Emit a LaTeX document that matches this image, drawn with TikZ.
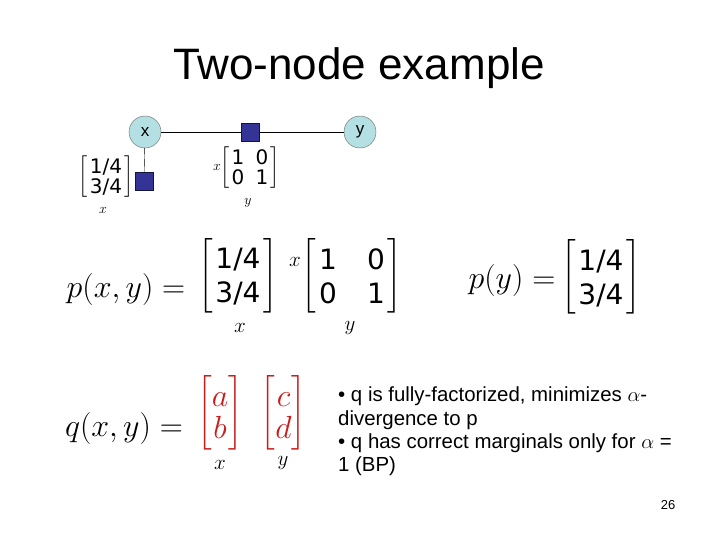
\RequirePackage{fix-cm}
\documentclass[tikz,border=0pt]{standalone}
\usepackage{amsmath}
\usepackage{fontspec}
\usepackage{xcolor}
\usetikzlibrary{positioning}
\newfontfamily\arial{Liberation Sans}
\newfontfamily\dejavu{DejaVu Sans}
\definecolor{varFill}{RGB}{180,224,228}
\definecolor{facFill}{RGB}{52,52,150}
\definecolor{facLine}{RGB}{20,20,60}
\definecolor{entRed}{RGB}{200,30,30}
\newcommand{\ent}[2][28]{\text{\dejavu\fontsize{#1}{#1}\selectfont\kern.1em #2\kern.1em}}
\newcommand{\rowB}{\rule[-7pt]{0pt}{34pt}}
\newcommand{\rowS}{\rule[-3pt]{0pt}{20pt}}
\delimitershortfall=8pt
\delimiterfactor=850

\begin{document}
\begin{tikzpicture}[x=1pt, y=-1pt,
  var/.style={circle, draw=gray!80!black, fill=varFill, minimum size=32pt, inner sep=0pt, font=\arial\fontsize{17}{20}\selectfont},
  fac/.style={rectangle, draw=facLine, fill=facFill, minimum size=18pt, inner sep=0pt},
  small/.style={font=\fontsize{18}{20}\selectfont\renewcommand\arraystretch{0}, inner sep=0pt},
  smalllbl/.style={font=\fontsize{14}{16}\selectfont, inner sep=0pt},
  big/.style={font=\fontsize{32}{34}\selectfont\renewcommand\arraystretch{0}, inner sep=0pt},
  biglbl/.style={font=\fontsize{21}{24}\selectfont, inner sep=0pt}]
  \useasboundingbox (0,0) rectangle (720,540);
  \node[font=\arial\fontsize{44}{50}\selectfont] (title) at (359,68) {Two-node example};
  % graph
  \node[var] (x) at (145,132) {x};
  \node[var] (y) at (360,132) {y};
  \node[fac] (fxy) at (250,132) {};
  \node[fac] (fx) at (144,181) {};
  \draw (x) -- (fxy) -- (y);
  \draw (x) -- (fx);
  \node[small] (mx) at (106,176.5) {$\begin{bmatrix}\rowS\ent[20]{1/4}\\ \rowS\ent[20]{3/4}\end{bmatrix}$};
  \node[smalllbl] (lx) at (103,210) {$x$};
  \node[small] (mxy) at (250,167.5) {\setlength\arraycolsep{3.6pt}$\begin{bmatrix}\rowS\ent[20]{1}&\ent[20]{0}\\ \rowS\ent[20]{0}&\ent[20]{1}\end{bmatrix}$};
  \node[smalllbl] (rxy) at (217,167) {$x$};
  \node[smalllbl] (cxy) at (248,203) {$y$};
  % p
  \node[big] (peq) at (126,290) {$p(x,y) =$};
  \node[big] (pm1) at (238,275.5) {$\begin{bmatrix}\rowB\ent{1/4}\\ \rowB\ent{3/4}\end{bmatrix}$};
  \node[biglbl] (pl1) at (240,328) {$x$};
  \node[big] (pm2) at (352,276) {\setlength\arraycolsep{12.3pt}$\begin{bmatrix}\rowB\ent{1}&\ent{0}\\ \rowB\ent{0}&\ent{1}\end{bmatrix}$};
  \node[biglbl] (pr2) at (295,262) {$x$};
  \node[biglbl] (pc2) at (350,328) {$y$};
  \node[big] (pyeq) at (512,280) {$p(y) =$};
  \node[big] (pm3) at (601,277) {$\begin{bmatrix}\rowB\ent{1/4}\\ \rowB\ent{3/4}\end{bmatrix}$};
  % q
  \node[big] (qeq) at (124,428) {$q(x,y) =$};
  \node[big] (qm1) at (220,412.5)
    {\color{entRed}$\begin{bmatrix}\rule[-10pt]{0pt}{39pt}a\\ \rule[-9pt]{0pt}{29pt}b\end{bmatrix}$};
  \node[biglbl] (ql1) at (220,465) {$x$};
  \node[big] (qm2) at (283.5,412.5)
    {\color{entRed}$\begin{bmatrix}\rule[-10pt]{0pt}{39pt}c\\ \rule[-9pt]{0pt}{29pt}d\end{bmatrix}$};
  \node[biglbl] (ql2) at (283,463) {$y$};
  \node[anchor=north west, align=left, inner sep=0pt, font=\arial\fontsize{20.4}{23.3}\selectfont] (notes) at (338,387)
    {• q is fully-factorized, minimizes $\alpha$-\\
     divergence to p\\
     • q has correct marginals only for $\alpha$ =\\
     1 (BP)};
  \node[font=\arial\fontsize{13}{15}\selectfont] (page) at (668,505) {26};
\end{tikzpicture}
\end{document}
